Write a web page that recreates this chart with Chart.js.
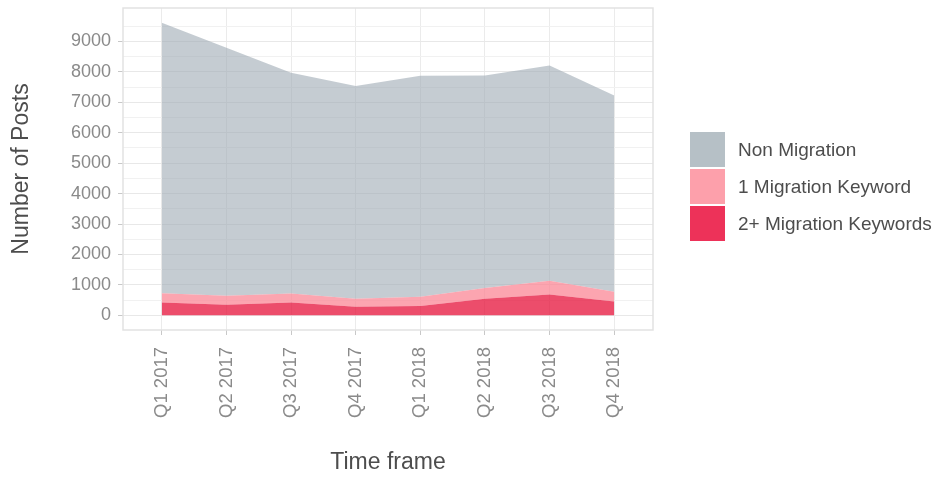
<!DOCTYPE html>
<html><head><meta charset="utf-8">
<script src="https://cdn.jsdelivr.net/npm/chart.js@4/dist/chart.umd.min.js"></script>
<style>html,body{margin:0;padding:0;background:#fff}#wrap{width:933px;height:479px}</style>
</head><body><div id="wrap"><canvas id="c" width="933" height="479"></canvas></div>
<script>
const categories = ['Q1 2017','Q2 2017','Q3 2017','Q4 2017','Q1 2018','Q2 2018','Q3 2018','Q4 2018'];
const nonMigration    = [8885, 8150, 7255, 6990, 7260, 6985, 7075, 6445];
const oneKeyword      = [310, 295, 295, 265, 300, 350, 450, 320];
const twoPlusKeywords = [420, 345, 420, 280, 310, 545, 685, 455];
const yMajorTicks = [0,1000,2000,3000,4000,5000,6000,7000,8000,9000];
const yMinorTicks = [500,1500,2500,3500,4500,5500,6500,7500,8500,9500];
const seriesLabels = ['Non Migration','1 Migration Keyword','2+ Migration Keywords'];

const FONT = '"Liberation Sans", Arial, sans-serif';
const toXY = arr => arr.map((v,i)=>({x:i,y:v}));

const panelBorder = {
  id:'panelBorder',
  afterDatasetsDraw(chart){
    const {ctx, chartArea:a} = chart;
    ctx.save(); ctx.strokeStyle='#e2e2e2'; ctx.lineWidth=1.5;
    ctx.strokeRect(a.left, a.top, a.right-a.left, a.bottom-a.top);
    ctx.restore();
  }
};
const customLegend = {
  id:'customLegend',
  afterDraw(chart){
    const ctx = chart.ctx;
    const items = chart.data.datasets.slice().reverse();
    const x = 690, y0 = 132, size = 35, step = 37;
    ctx.save();
    ctx.font = '19px ' + FONT; ctx.textBaseline='middle'; ctx.textAlign='left';
    items.forEach((d,i)=>{
      const y = y0 + i*step;
      ctx.fillStyle = d.legendColor; ctx.fillRect(x, y, size, size);
      ctx.fillStyle = '#4d4d4d'; ctx.fillText(d.label, x+48, y+size/2+1);
    });
    ctx.restore();
  }
};

new Chart(document.getElementById('c'), {
  type:'line',
  data:{
    datasets:[
      {label:seriesLabels[2], data:toXY(twoPlusKeywords), fill:'origin', backgroundColor:'rgba(230,18,58,0.75)', legendColor:'#ed3259', borderWidth:0, pointRadius:0, tension:0},
      {label:seriesLabels[1], data:toXY(oneKeyword), fill:'-1', backgroundColor:'rgba(251,135,150,0.75)', legendColor:'#fda0ab', borderWidth:0, pointRadius:0, tension:0},
      {label:seriesLabels[0], data:toXY(nonMigration), fill:'-1', backgroundColor:'rgba(158,170,180,0.6)', legendColor:'#b6c0c6', borderWidth:0, pointRadius:0, tension:0}
    ]
  },
  options:{
    responsive:false, animation:false, events:[],
    layout:{padding:{top:8,right:280,left:0,bottom:0}},
    plugins:{legend:{display:false}, title:{display:false}, tooltip:{enabled:false}},
    scales:{
      x:{
        type:'linear', min:-0.6, max:7.6,
        afterBuildTicks(s){ s.ticks = categories.map((_,i)=>({value:i})); },
        afterFit(s){ s.height = 149; s.paddingLeft = 0; s.paddingRight = 0; },
        border:{display:false},
        grid:{color:'#ebebeb', lineWidth:1, tickColor:'#c8c8c8', tickLength:5, drawTicks:true},
        ticks:{autoSkip:false, minRotation:90, maxRotation:90, padding:12, color:'#8a8a8a', font:{family:FONT,size:18.5},
          callback:(v)=>categories[v] ?? ''},
        title:{display:true, text:'Time frame', color:'#4d4d4d', font:{family:FONT,size:23}, padding:{top:0,bottom:3}}
      },
      y:{
        type:'linear', stacked:true, min:-481, max:10096,
        afterBuildTicks(s){ s.ticks = yMajorTicks.concat(yMinorTicks).sort((a,b)=>a-b).map(v=>({value:v})); },
        afterFit(s){ s.width = 123; s.paddingTop = 0; s.paddingBottom = 0; },
        border:{display:false},
        grid:{
          color:(c)=> yMajorTicks.includes(c.tick && c.tick.value) ? '#e8e8e8' : '#f1f1f1',
          tickColor:(c)=> yMajorTicks.includes(c.tick && c.tick.value) ? '#c8c8c8' : 'rgba(0,0,0,0)',
          lineWidth:1, tickLength:5, drawTicks:true
        },
        ticks:{autoSkip:false, padding:7, color:'#8a8a8a', font:{family:FONT,size:18},
          callback:(v)=> yMajorTicks.includes(v) ? String(v) : ''},
        title:{display:true, text:'Number of Posts', color:'#4d4d4d', font:{family:FONT,size:23}, padding:{top:8,bottom:0}}
      }
    }
  },
  plugins:[panelBorder, customLegend]
});
</script></body></html>
